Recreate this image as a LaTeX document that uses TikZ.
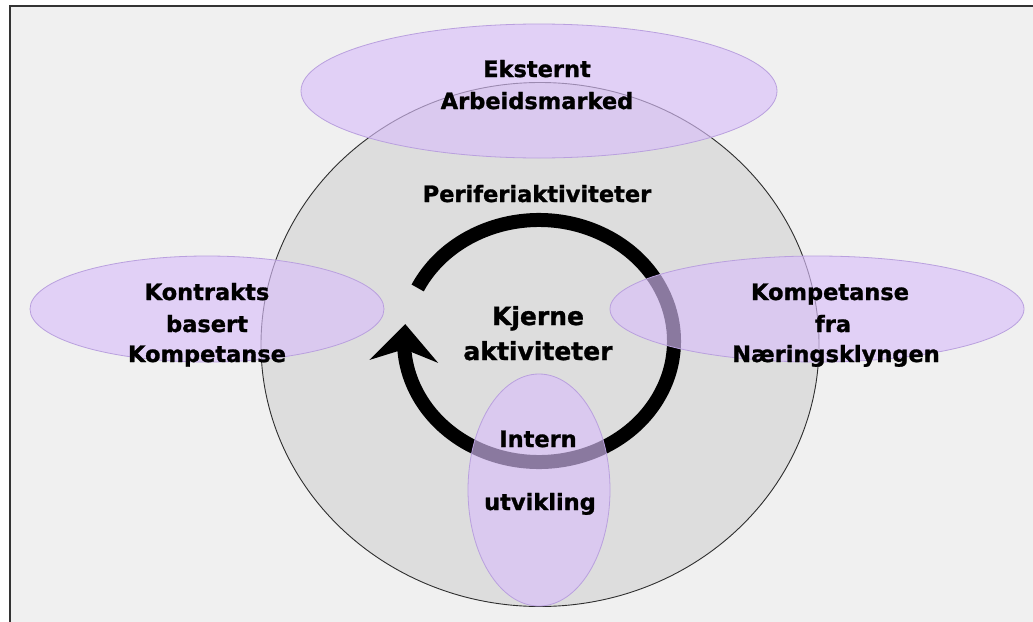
\documentclass[tikz,border=0pt]{standalone}
\usepackage{fontspec}
\setmainfont{DejaVu Sans}[BoldFeatures={FakeBold=1.2}]
\usetikzlibrary{arrows.meta,bending}

\definecolor{panel}{HTML}{F0F0F0}
\definecolor{disc}{HTML}{DDDDDD}
\definecolor{discedge}{HTML}{2E2E2E}
\definecolor{lilac}{RGB}{217,190,250}
\definecolor{lilacedge}{RGB}{185,160,222}
\definecolor{frameline}{HTML}{333333}

\begin{document}
\begin{tikzpicture}[x=1pt,y=1pt,
  txt/.style={font=\bfseries\fontsize{22.5}{27}\selectfont, inner sep=0pt, anchor=base},
  bigtxt/.style={txt, font=\bfseries\fontsize{25}{30}\selectfont},
  bubble/.style={fill=lilac, fill opacity=0.64, draw=lilacedge, line width=0.8pt},
  cycle/.style={line width=14pt, -{Stealth[length=37pt,width=68pt,inset=12pt]}}]

\useasboundingbox (0,0) rectangle (1033,-621);
\fill[white] (0,0) rectangle (1033,-621);

% framed panel, only its top and left edges fall inside the page
\begin{scope}
  \clip (0,0) rectangle (1033,-621);
  \filldraw[fill=panel, draw=frameline, line width=1.6pt] (10,-6) rectangle (1050,-640);
\end{scope}

% the firm: large grey disc
\filldraw[fill=disc, draw=discedge, line width=0.9pt] (540,-344.5) ellipse [x radius=279, y radius=262];

% cycle of core activities
\coordinate (hub) at (539,-341);
\draw[cycle] (hub) ++(154:135 and 121)
  arc [start angle=154, end angle=-188, x radius=135, y radius=121];

% competence sources
\path[bubble] (539,-91) ellipse [x radius=238, y radius=67];
\path[bubble] (207,-309) ellipse [x radius=177, y radius=53];
\path[bubble] (817,-309) ellipse [x radius=207, y radius=53];
\path[bubble] (539,-490) ellipse [x radius=71, y radius=116];

% labels
\node[txt] (eks1) at (537,-77) {Eksternt};
\node[txt] (eks2) at (537,-109) {Arbeidsmarked};
\node[txt] (peri) at (537,-202) {Periferiaktiviteter};

\node[txt] (kon1) at (207,-300) {Kontrakts};
\node[txt] (kon2) at (207,-332) {basert};
\node[txt] (kon3) at (207,-362) {Kompetanse};

\node[txt] (nk1) at (830,-300) {Kompetanse};
\node[txt] (nk2) at (833,-332) {fra};
\node[txt] (nk3) at (836,-362) {Næringsklyngen};

\node[bigtxt] (kj1) at (538,-325) {Kjerne};
\node[bigtxt] (kj2) at (538,-360) {aktiviteter};

\node[txt] (int1) at (538,-447) {Intern};
\node[txt] (int2) at (540,-510) {utvikling};
\end{tikzpicture}
\end{document}
